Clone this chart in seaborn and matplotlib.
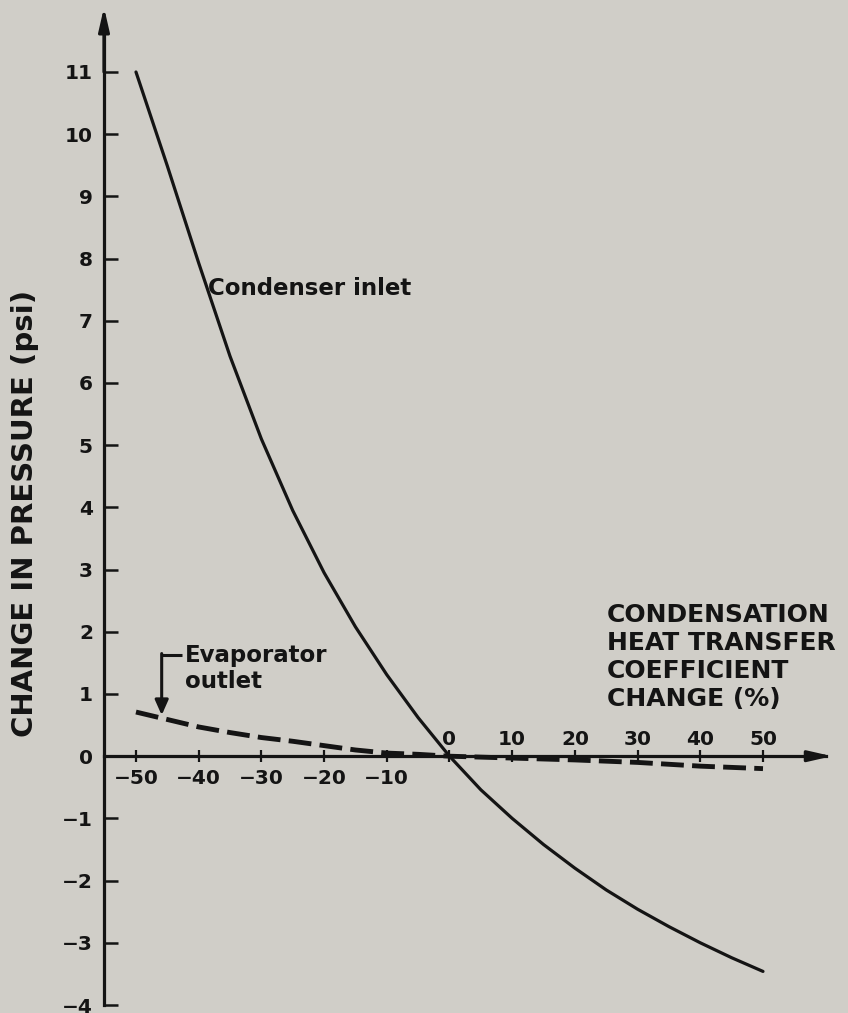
import matplotlib
matplotlib.use("Agg")
import matplotlib.pyplot as plt
import seaborn as sns
import pandas as pd
from matplotlib.ticker import FixedLocator, FixedFormatter

# ---- data ----
cond_x = [-50, -45, -40, -35, -30, -25, -20, -15, -10, -5, 0,
          5, 10, 15, 20, 25, 30, 35, 40, 45, 50]
cond_y = [11.0, 9.49, 7.93, 6.43, 5.1, 3.95, 2.95, 2.08, 1.31, 0.62, 0.0,
          -0.54, -1.0, -1.42, -1.8, -2.15, -2.46, -2.74, -3.0, -3.24, -3.46]

evap_x = [-50, -45, -40, -35, -30, -25, -20, -15, -10, -5, 0, 10, 20, 30, 40, 50]
evap_y = [0.71, 0.59, 0.47, 0.38, 0.30, 0.24, 0.17, 0.10, 0.05, 0.03, 0.0,
          -0.03, -0.06, -0.10, -0.16, -0.20]

neg_ticks = [-50, -40, -30, -20, -10]
neg_labels = ["\u221250", "\u221240", "\u221230", "\u221220", "\u221210"]
pos_ticks = [0, 10, 20, 30, 40, 50]
pos_labels = ["0", "10", "20", "30", "40", "50"]
y_ticks = list(range(-4, 12))
y_labels = [("\u2212" + str(-v)) if v < 0 else str(v) for v in y_ticks]

x_title = "CONDENSATION\nHEAT TRANSFER\nCOEFFICIENT\nCHANGE (%)"
y_title = "CHANGE IN PRESSURE (psi)"
cond_label = "Condenser inlet"
evap_label = "Evaporator\noutlet"

# ---- style ----
sns.set_theme(style="white")
plt.rcParams["font.family"] = ["DejaVu Sans"]
plt.rcParams["font.weight"] = "bold"
BG = "#d0cec8"
INK = "#141414"

W, H = 848, 1013
fig = plt.figure(figsize=(W / 100, H / 100), dpi=100, facecolor=BG)
ax = fig.add_axes([104 / W, 8 / H, 740.5 / W, 997.7 / H])
ax.set_facecolor(BG)

df_c = pd.DataFrame({"x": cond_x, "y": cond_y})
df_e = pd.DataFrame({"x": evap_x, "y": evap_y})
sns.lineplot(data=df_c, x="x", y="y", ax=ax, color=INK, lw=2.3, sort=False, estimator=None)
sns.lineplot(data=df_e, x="x", y="y", ax=ax, color=INK, lw=3.5, sort=False, estimator=None,
             linestyle=(0, (4.7, 1.7)))

ax.set_xlim(-55.1, 63.0)
ax.set_ylim(-4, 12.04)

# spines
ax.spines["right"].set_visible(False)
ax.spines["left"].set_position(("data", -55.1))
ax.spines["left"].set_bounds(-4, 11.7)
ax.spines["bottom"].set_position(("data", 0))
ax.spines["bottom"].set_bounds(-55.1, 60)
ax.spines["top"].set_position(("data", 0))
ax.spines["top"].set_visible(False)
for s in ["left", "bottom"]:
    ax.spines[s].set_linewidth(2.3)
    ax.spines[s].set_color(INK)

# axis arrows
arrow_kw = dict(arrowstyle="-|>,head_length=1.4,head_width=0.32", color=INK, lw=2.3,
                shrinkA=0, shrinkB=0, mutation_scale=10)
ax.annotate("", xy=(-55.1, 12.04), xytext=(-55.1, 11.0), xycoords="data",
            arrowprops=arrow_kw, annotation_clip=False)
ax.annotate("", xy=(61.0, 0), xytext=(58.0, 0), xycoords="data",
            arrowprops=arrow_kw, annotation_clip=False)

# ticks
ax.yaxis.set_major_locator(FixedLocator(y_ticks))
ax.yaxis.set_major_formatter(FixedFormatter(y_labels))
ax.tick_params(axis="y", which="major", direction="in", left=True, right=False,
               length=10, width=1.8, pad=8, labelsize=14.5, color=INK, labelcolor=INK)

ax.xaxis.set_major_locator(FixedLocator(neg_ticks))
ax.xaxis.set_major_formatter(FixedFormatter(neg_labels))
ax.xaxis.set_minor_locator(FixedLocator(pos_ticks))
ax.xaxis.set_minor_formatter(FixedFormatter(pos_labels))
ax.tick_params(axis="x", which="major", direction="inout", bottom=True, top=False,
               labelbottom=True, labeltop=False, length=8, width=1.6, pad=5,
               labelsize=14.5, color=INK, labelcolor=INK)
ax.tick_params(axis="x", which="minor", direction="inout", bottom=False, top=True,
               labelbottom=False, labeltop=True, length=8, width=1.6, pad=1,
               labelsize=14.5, color=INK, labelcolor=INK)

# axis titles
ax.set_ylabel(y_title, fontsize=21, color=INK, fontweight="bold")
ax.yaxis.set_label_coords(-0.1067, 0.4931)
ax.yaxis.label.set_va("center")

ax.set_xlabel(x_title, fontsize=18, color=INK, fontweight="bold", linespacing=1.22)
ax.xaxis.set_label_coords(0.6793, 0.403)
ax.xaxis.label.set_ha("left")
ax.xaxis.label.set_va("top")
ax.xaxis.label.set_multialignment("left")

# curve labels
ax.text(-38.5, 7.52, cond_label, ha="left", va="center", fontsize=16.5, color=INK,
        fontweight="bold")
ax.text(-42.2, 1.80, evap_label, ha="left", va="top", fontsize=16.5, color=INK,
        fontweight="bold", linespacing=1.15)
ax.plot([-46.0, -42.6], [1.62, 1.62], color=INK, lw=2.2, solid_capstyle="butt")
ax.annotate("", xy=(-45.9, 0.66), xytext=(-45.9, 1.65),
            arrowprops=dict(arrowstyle="-|>,head_length=0.9,head_width=0.4", color=INK,
                            lw=2.2, shrinkA=0, shrinkB=0, mutation_scale=10))

fig.savefig("out.png", dpi=100, facecolor=BG)
